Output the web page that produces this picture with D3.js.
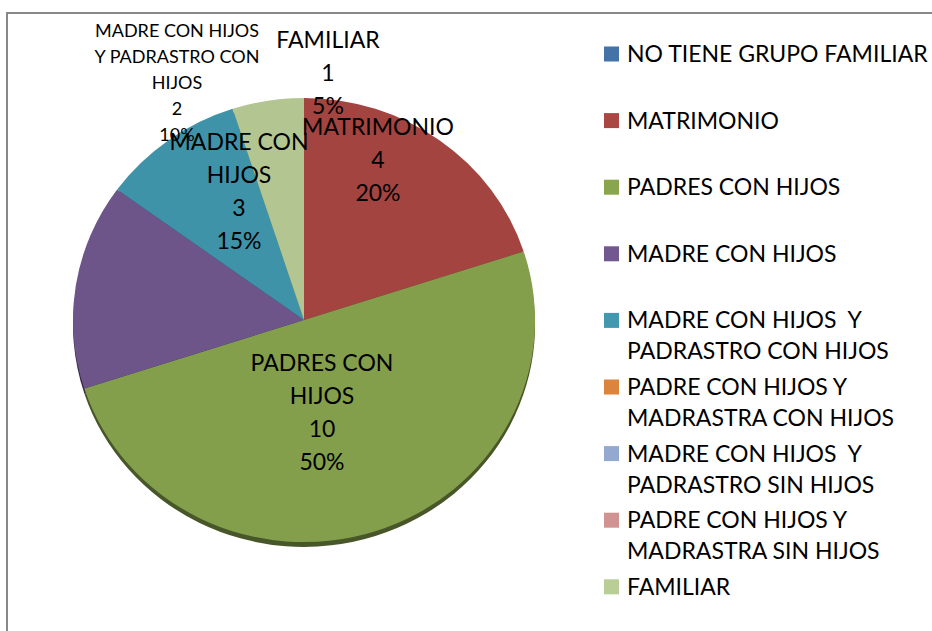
<!DOCTYPE html>
<html>
<head>
<meta charset="utf-8">
<script src="https://cdn.jsdelivr.net/npm/d3@7"></script>
<style>
  body { margin: 0; background: #fff; }
  text { font-family: Lato, "Open Sans", sans-serif; fill: #000; white-space: pre; }
</style>
</head>
<body>
<div id="chart"></div>
<script>
var categories = [
  "NO TIENE GRUPO FAMILIAR",
  "MATRIMONIO",
  "PADRES CON HIJOS",
  "MADRE CON HIJOS",
  "MADRE CON HIJOS  Y PADRASTRO CON HIJOS",
  "PADRE CON HIJOS Y MADRASTRA CON HIJOS",
  "MADRE CON HIJOS  Y PADRASTRO SIN HIJOS",
  "PADRE CON HIJOS Y MADRASTRA SIN HIJOS",
  "FAMILIAR"
];
var values = [0, 4, 10, 3, 2, 0, 0, 0, 1];
var colors = ["#4572A7", "#AA4643", "#89A54E", "#71588F", "#4198AF",
              "#DB843D", "#93A9CF", "#D19392", "#B9CD96"];
// legend entries split on two lines
var legendLines = [
  ["NO TIENE GRUPO FAMILIAR"],
  ["MATRIMONIO"],
  ["PADRES CON HIJOS"],
  ["MADRE CON HIJOS"],
  ["MADRE CON HIJOS  Y", "PADRASTRO CON HIJOS"],
  ["PADRE CON HIJOS Y", "MADRASTRA CON HIJOS"],
  ["MADRE CON HIJOS  Y", "PADRASTRO SIN HIJOS"],
  ["PADRE CON HIJOS Y", "MADRASTRA SIN HIJOS"],
  ["FAMILIAR"]
];
// data label text lines (category part)
var labelNames = {
  1: ["MATRIMONIO"],
  2: ["PADRES CON", "HIJOS"],
  3: ["MADRE CON", "HIJOS"],
  4: ["MADRE CON HIJOS", "Y PADRASTRO CON", "HIJOS"],
  8: ["FAMILIAR"]
};

var w = 932, h = 631;
var cx = 304, cy = 320;
var rx = 231, ry = 222;
var total = d3.sum(values);

// label centre offsets from pie centre
var labelOffset = {
  1: [74, -160],
  2: [18, 92],
  3: [-65, -129],
  4: [-127, -237],
  8: [24, -247]
};

var svg = d3.select("#chart").append("svg")
  .attr("width", w)
  .attr("height", h);

// frame lines
svg.append("line")
  .attr("x1", 7).attr("y1", 13).attr("x2", w).attr("y2", 13)
  .attr("stroke", "#888").attr("stroke-width", 2);
svg.append("line")
  .attr("x1", 7).attr("y1", 12).attr("x2", 7).attr("y2", h)
  .attr("stroke", "#888").attr("stroke-width", 2);

var pie = d3.pie().sort(null).value(function(d) { return d; });
var arcs = pie(values);
var arc = d3.arc().innerRadius(0).outerRadius(rx);

var pieG = svg.append("g")
  .attr("transform", "translate(" + cx + "," + cy + ") scale(1," + (ry / rx) + ")");

// darker rim underneath
pieG.append("g")
  .attr("transform", "translate(0,5)")
  .selectAll("path")
  .data(arcs.filter(function(d) { return d.value > 0; }))
  .enter()
  .append("path")
  .attr("d", arc)
  .attr("fill", function(d) {
    return d3.color(colors[d.index]).darker(1.8);
  });

pieG.selectAll("path.slice")
  .data(arcs.filter(function(d) { return d.value > 0; }))
  .enter()
  .append("path")
  .attr("class", "slice")
  .attr("d", arc)
  .attr("fill", function(d) {
    return d3.color(colors[d.index]).darker(0.1);
  });

// data labels
var labels = svg.append("g");
arcs.forEach(function(d) {
  if (d.value <= 0) return;
  var i = d.index;
  var small = (i == 4);
  var fs = small ? 18 : 23;
  var lh = small ? 26 : 33;
  var lines = labelNames[i].concat([String(d.value), Math.round(d.value / total * 100) + "%"]);
  var off = labelOffset[i];
  var x = cx + off[0];
  var y0 = cy + off[1] - (lines.length - 1) * lh / 2;
  var t = labels.append("text")
    .attr("text-anchor", "middle")
    .attr("font-size", fs);
  lines.forEach(function(s, k) {
    t.append("tspan")
      .attr("x", x)
      .attr("y", y0 + k * lh)
      .attr("dy", "0.35em")
      .text(s);
  });
});

// legend
var legend = svg.append("g").attr("transform", "translate(604,54)");
var item = legend.selectAll("g")
  .data(categories)
  .enter()
  .append("g")
  .attr("transform", function(d, i) {
    return "translate(0," + (i * 66.6) + ")";
  });

item.append("rect")
  .attr("x", 0)
  .attr("y", -7.5)
  .attr("width", 15)
  .attr("height", 15)
  .attr("fill", function(d, i) { return colors[i]; });

item.append("text")
  .attr("font-size", 23)
  .each(function(d, i) {
    var t = d3.select(this);
    legendLines[i].forEach(function(s, k) {
      t.append("tspan")
        .attr("x", 23)
        .attr("y", k * 31)
        .attr("dy", "0.35em")
        .text(s);
    });
  });
</script>
</body>
</html>
